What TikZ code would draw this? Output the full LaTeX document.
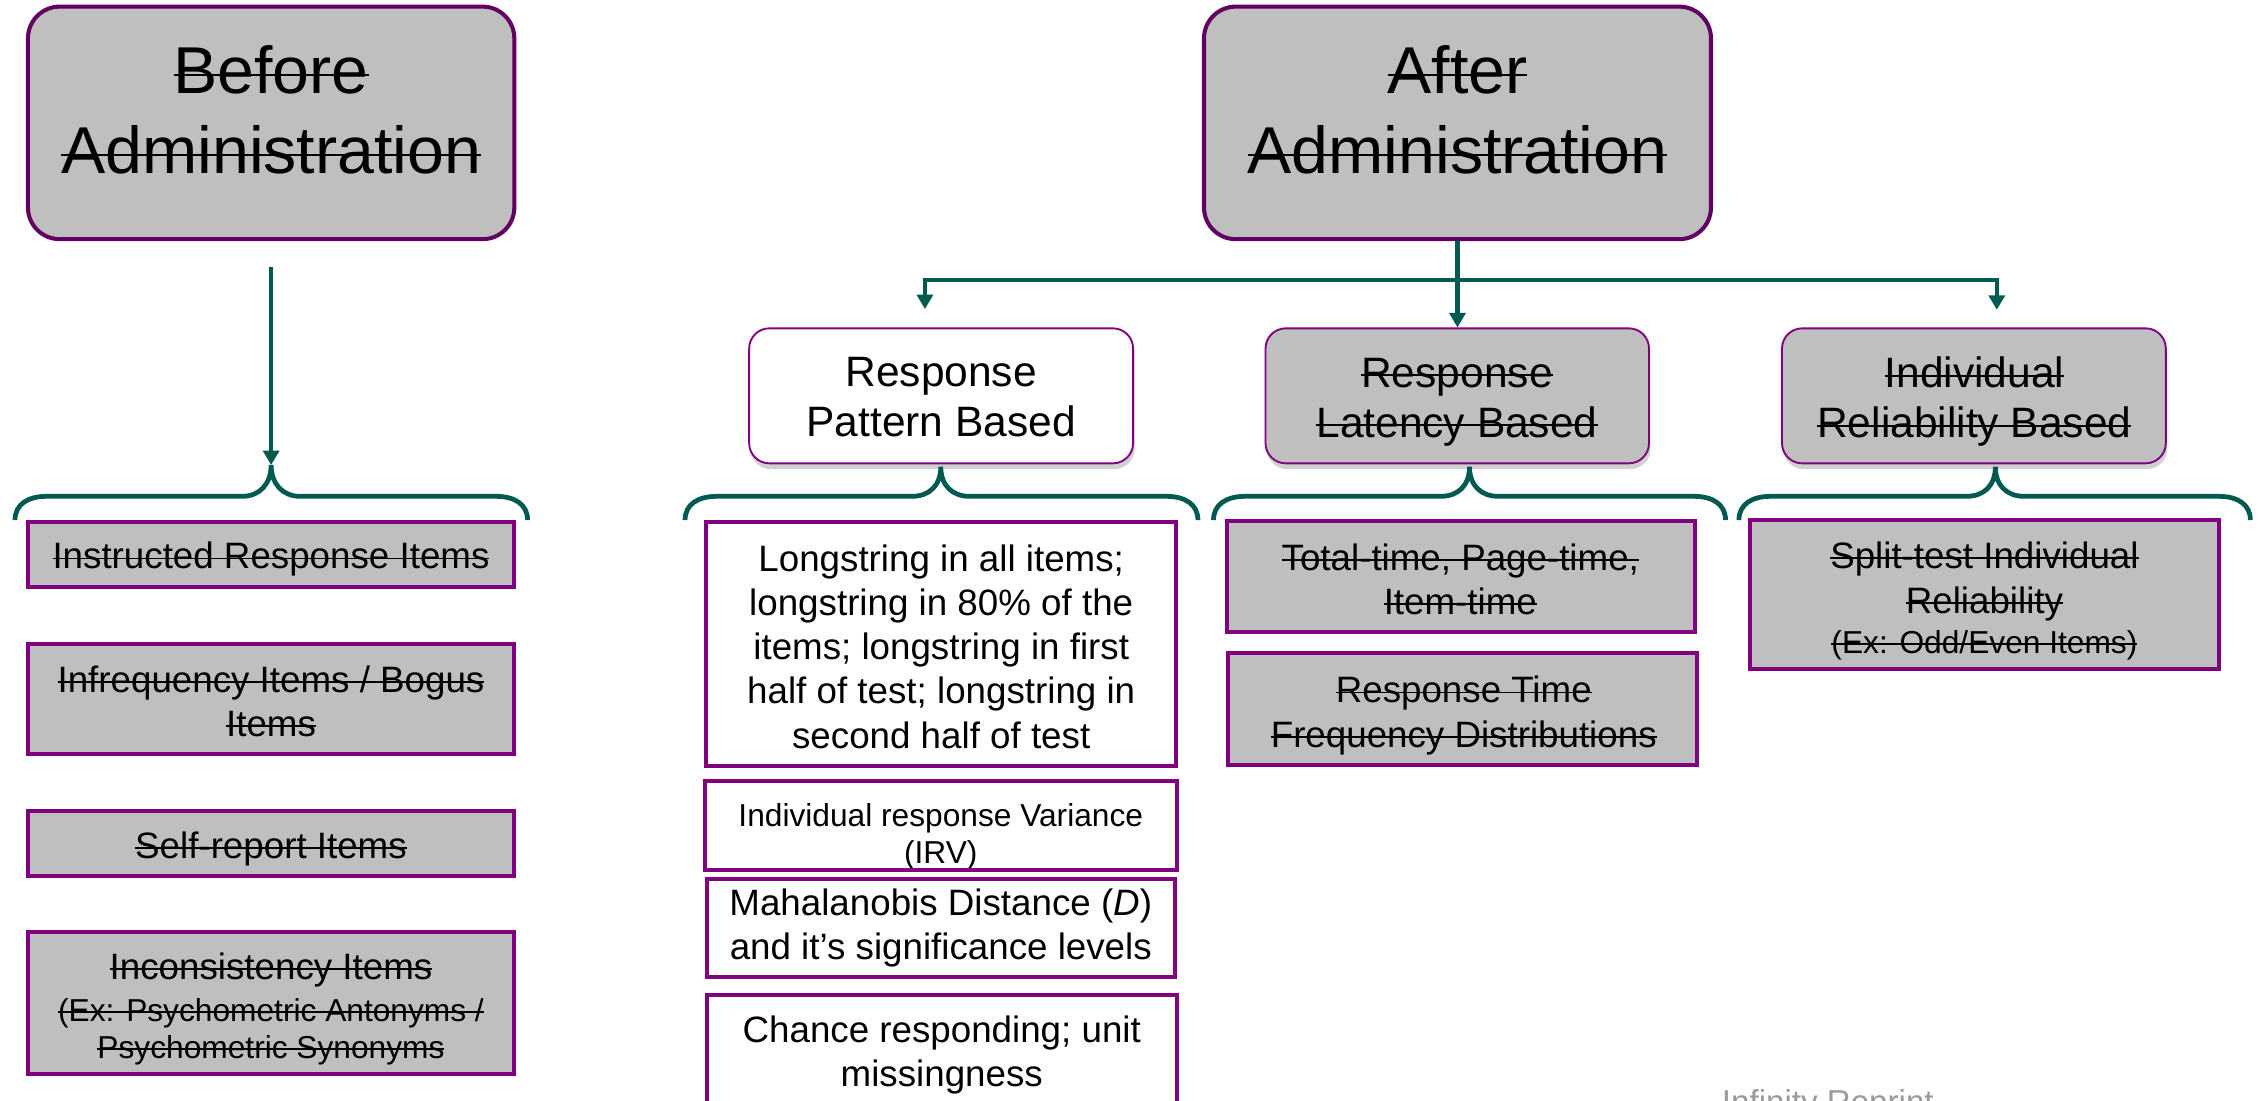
\documentclass[tikz,border=0pt]{standalone}
\usepackage{fontspec}
\setmainfont{Liberation Sans}
\usetikzlibrary{arrows.meta,shadows}
\definecolor{boxgray}{HTML}{BFBFBF}
\definecolor{mydarkplum}{HTML}{620062}
\definecolor{myplum}{HTML}{800080}
\definecolor{myteal}{HTML}{005A50}
\definecolor{footgray}{HTML}{9A9A9A}
\newcommand{\ftitle}{\fontsize{46}{55.5}\selectfont}
\newcommand{\fsub}{\fontsize{29.5}{34.7}\selectfont}
\newcommand{\fbody}{\fontsize{25.5}{30.7}\selectfont}
\newcommand{\fsmall}{\fontsize{22}{25.5}\selectfont}
\newsavebox{\mystrikebox}
\newcommand{\mystrike}[1]{\sbox{\mystrikebox}{#1}\rlap{\usebox{\mystrikebox}}\rule[\dimexpr0.285em-0.65pt\relax]{\wd\mystrikebox}{1.3pt}}
\newcommand{\drawbrace}[4]{%
  \draw[brace] (#1,361) .. controls (#1,350) and ({#1+9},344.5) .. ({#1+22},344.5)
    -- ({#2-20},344.5) .. controls ({#2-8},344.5) and (#2,{#4+13}) .. (#2,#4)
    .. controls (#2,{#4+13}) and ({#2+8},344.5) .. ({#2+20},344.5)
    -- ({#3-22},344.5) .. controls ({#3-9},344.5) and (#3,350) .. (#3,361);}
\begin{document}
\begin{tikzpicture}[x=1pt,y=-1pt,
  topbox/.style={draw=mydarkplum,line width=2.8pt,fill=boxgray,rounded corners=22pt,inner sep=0pt},
  subbox/.style={draw=myplum,line width=1.3pt,rounded corners=14pt,inner sep=0pt,
     drop shadow={shadow xshift=1pt,shadow yshift=-4pt,opacity=0.18,fill=black}},
  itembox/.style={draw=myplum,line width=2.8pt,fill=boxgray,inner sep=0pt},
  whitebox/.style={itembox,fill=white},
  lbl/.style={align=center,inner sep=0pt,font=\fbody},
  titlelbl/.style={lbl,font=\ftitle},
  sublbl/.style={lbl,font=\fsub},
  link/.style={draw=myteal,line width=3pt},
  arrowlink/.style={link,-{Triangle[width=11pt,length=10pt]}},
  twoarrow/.style={link,{Triangle[width=11pt,length=10pt]}-{Triangle[width=11pt,length=10pt]}},
  brace/.style={draw=myteal,line width=3.3pt}]
\useasboundingbox (0,0) rectangle (1568,764);
\clip (0,0) rectangle (1568,764);

% top level
\node[topbox,minimum width=337.6pt,minimum height=161.4pt] (before) at (188.2,85.3) {};
\node[titlelbl] (beforelbl) at (188.2,76.5) {\mystrike{Before}\\\mystrike{Administration}};
\node[topbox,minimum width=351.9pt,minimum height=161.4pt] (after) at (1011.65,85.3) {};
\node[titlelbl] (afterlbl) at (1011.65,76.5) {\mystrike{After}\\\mystrike{Administration}};

% second level
\node[subbox,fill=white,minimum width=266.5pt,minimum height=93.7pt] (pattern) at (653.25,274.75) {};
\node[sublbl] (patternlbl) at (653.25,275.4) {Response\\Pattern Based};
\node[subbox,fill=boxgray,minimum width=266.2pt,minimum height=93.7pt] (latency) at (1011.5,274.75) {};
\node[sublbl] (latencylbl) at (1011.3,279) {\mystrike{Response}\\\mystrike{Latency Based}};
\node[subbox,fill=boxgray,minimum width=266.4pt,minimum height=93.7pt] (reliab) at (1370.1,274.75) {};
\node[sublbl] (reliablbl) at (1370.4,279) {\mystrike{Individual}\\\mystrike{Reliability Based}};

% connectors
\coordinate (bcusp) at (188.2,322.8);
\draw[arrowlink] ([yshift=-18pt]before.south) -- (bcusp);
\draw[arrowlink] (after.south) -- (after.south |- latency.north);
\coordinate (barL) at (642,194.3);
\coordinate (barR) at (1386,194.3);
\coordinate (tipL) at (642,214.5);
\coordinate (tipR) at (1386,215);
\draw[twoarrow] (tipL) -- (barL) -- (barR) -- (tipR);

% braces
\drawbrace{10.4}{188.2}{366.2}{322.8}
\drawbrace{475.5}{653}{831.5}{324}
\drawbrace{842.3}{1020}{1197.7}{324}
\drawbrace{1207}{1385}{1562}{324}

% left column
\node[itembox,minimum width=337.2pt,minimum height=45.2pt] (instr) at (188.1,384.6) {};
\node[lbl] (instrlbl) at (188.1,388.3) {\mystrike{Instructed Response Items}};
\node[itembox,minimum width=337.2pt,minimum height=76.4pt] (infreq) at (188.1,485.2) {};
\node[lbl] (infreqlbl) at (188.1,487) {\mystrike{Infrequency Items / Bogus}\\\mystrike{Items}};
\node[itembox,minimum width=337.2pt,minimum height=45.3pt] (self) at (188.1,585.35) {};
\node[lbl] (selflbl) at (188.1,589) {\mystrike{Self-report Items}};
\node[itembox,minimum width=337.2pt,minimum height=98.8pt] (incons) at (188.1,696.1) {};
\node[lbl] (inconslbl) at (188.1,700.3) {\mystrike{Inconsistency Items}\\[-1.9pt]
  {\fsmall\mystrike{(Ex: Psychometric Antonyms /}}\\[-5.2pt]
  {\fsmall\mystrike{Psychometric Synonyms}}};

% pattern column
\node[whitebox,minimum width=326pt,minimum height=170pt] (long) at (653.3,447) {};
\node[lbl] (longlbl) at (653.3,448.8) {Longstring in all items;\\longstring in 80\% of the\\items; longstring in first\\half of test; longstring in\\second half of test};
\node[whitebox,draw=none,minimum width=325.1pt,minimum height=59pt] (irv) at (653,572.8) {};
\node[lbl,font=\fsmall] (irvlbl) at (653,580.8) {Individual response Variance\\(IRV)};
\draw[myplum,line width=2.8pt] (irv.north west) rectangle (irv.south east);
\node[whitebox,minimum width=325.1pt,minimum height=68.5pt] (maha) at (653,644.15) {};
\node[lbl] (mahalbl) at (653,644.2) {Mahalanobis Distance (\textit{D})\\and it’s significance levels};
\node[whitebox,minimum width=326.5pt,minimum height=109.4pt] (chance) at (653.7,745.3) {};
\node[lbl] (chancelbl) at (653.7,732.1) {Chance responding; unit\\missingness};

% latency column
\node[itembox,minimum width=324.9pt,minimum height=77.4pt] (total) at (1014.15,400.3) {};
\node[lbl] (totallbl) at (1013.6,402) {\mystrike{Total-time, Page-time,}\\\mystrike{Item-time}};
\node[itembox,minimum width=325.2pt,minimum height=77.5pt] (rtime) at (1015.2,492.25) {};
\node[lbl] (rtimelbl) at (1016,496.7) {\mystrike{Response Time}\\\mystrike{Frequency Distributions}};

% reliability column
\node[itembox,minimum width=325.8pt,minimum height=103.6pt] (split) at (1377.4,412.8) {};
\node[lbl] (splitlbl) at (1377.4,416.9) {\mystrike{Split-test Individual}\\[0.6pt]\mystrike{Reliability}\\[-3pt]
  {\fsmall\mystrike{(Ex: Odd/Even Items)}}};

% footer (cut by the frame)
\node[anchor=base west,inner sep=0pt,font=\fontsize{23}{27}\selectfont,text=footgray] (footer) at (1195,773) {Infinity Reprint};
\end{tikzpicture}
\end{document}
